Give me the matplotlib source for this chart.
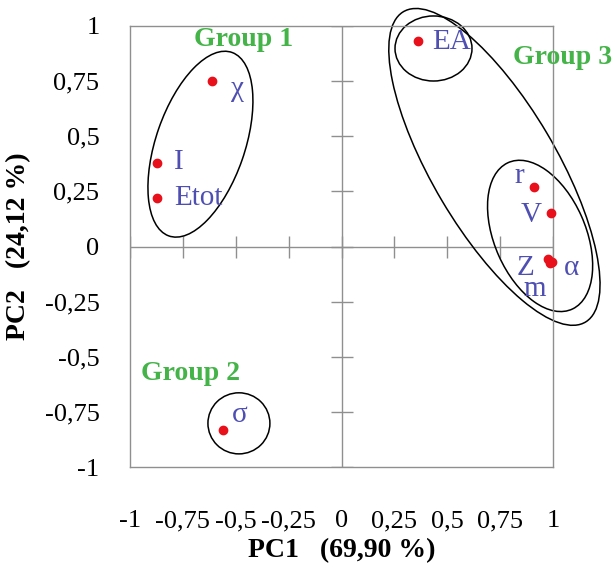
import matplotlib
matplotlib.use("Agg")
import matplotlib.pyplot as plt
from matplotlib.patches import Ellipse

# ---- data ----
names = ["χ", "I", "Etot", "σ", "EA", "r", "V", "Z", "m", "α"]
pc1 = [-0.61, -0.87, -0.87, -0.56, 0.36, 0.91, 0.99, 0.975, 0.985, 0.995]
pc2 = [0.75, 0.38, 0.22, -0.83, 0.93, 0.27, 0.15, -0.055, -0.075, -0.07]
label_x = [-0.494, -0.768, -0.676, -0.48, 0.522, 0.841, 0.899, 0.868, 0.915, 1.088]
label_y = [0.714, 0.382, 0.218, -0.764, 0.929, 0.32, 0.145, -0.097, -0.195, -0.097]

ticks = [-1, -0.75, -0.5, -0.25, 0, 0.25, 0.5, 0.75, 1]
tick_labels = ["-1", "-0,75", "-0,5", "-0,25", "0", "0,25", "0,5", "0,75", "1"]

groups = ["Group 1", "Group 2", "Group 3"]
group_x = [-0.464, -0.712, 1.047]
group_y = [0.941, -0.574, 0.855]

# ellipses: center x, center y, width, height, angle
ell_cx = [-0.667, -0.485, 0.435, 0.723, 0.939]
ell_cy = [0.464, -0.802, 0.898, 0.361, 0.048]
ell_w = [0.884, 0.293, 0.364, 1.65, 0.73]
ell_h = [0.419, 0.277, 0.295, 0.583, 0.43]
ell_a = [70, 0, 0, -58.3, -65]

xlabel = "PC1   (69,90 %)"
ylabel = "PC2   (24,12 %)"

# ---- style ----
plt.rcParams["font.family"] = ["Liberation Serif", "DejaVu Serif"]
grey = "#8f8f8f"
blue = "#4f4fb3"
green = "#44b449"

fig = plt.figure(figsize=(6.15, 5.73), dpi=100)
ax = fig.add_axes([130 / 615, 106 / 573, 423 / 615, 441 / 573])
ax.set_xlim(-1, 1)
ax.set_ylim(-1, 1)
for s in ax.spines.values():
    s.set_color(grey)
    s.set_linewidth(1.0)

ax.set_xticks(ticks)
ax.set_xticklabels(tick_labels)
ax.set_yticks(ticks)
ax.set_yticklabels(tick_labels)
ax.tick_params(length=0, labelsize=19)
ax.tick_params(axis="y", pad=22)
ax.tick_params(axis="x", pad=31)

ax.axhline(0, color=grey, lw=1.0, zorder=1)
ax.axvline(0, color=grey, lw=1.0, zorder=1)
ax.plot(ticks, [0] * len(ticks), ls="none", marker="|", ms=16, mew=1.0, color=grey, zorder=1)
ax.plot([0] * len(ticks), ticks, ls="none", marker="_", ms=16, mew=1.0, color=grey, zorder=1)

for cx, cy, w, h, a in zip(ell_cx, ell_cy, ell_w, ell_h, ell_a):
    ax.add_patch(Ellipse((cx, cy), w, h, angle=a, fill=False, ec="black", lw=1.1, clip_on=False, zorder=2))

ax.plot(pc1, pc2, ls="none", marker="o", ms=6, color="#e8101a", clip_on=False, zorder=3)

for n, x, y in zip(names, label_x, label_y):
    ax.text(x, y, n, color=blue, fontsize=21, ha="center", va="center", zorder=4)

for g, x, y in zip(groups, group_x, group_y):
    ax.text(x, y, g, color=green, fontsize=20, fontweight="bold", ha="center", va="center", zorder=4)

ax.set_xlabel(xlabel, fontsize=20, fontweight="bold", labelpad=4)
ax.set_ylabel(ylabel, fontsize=20, fontweight="bold", labelpad=10)

fig.savefig("out.png", dpi=100)
